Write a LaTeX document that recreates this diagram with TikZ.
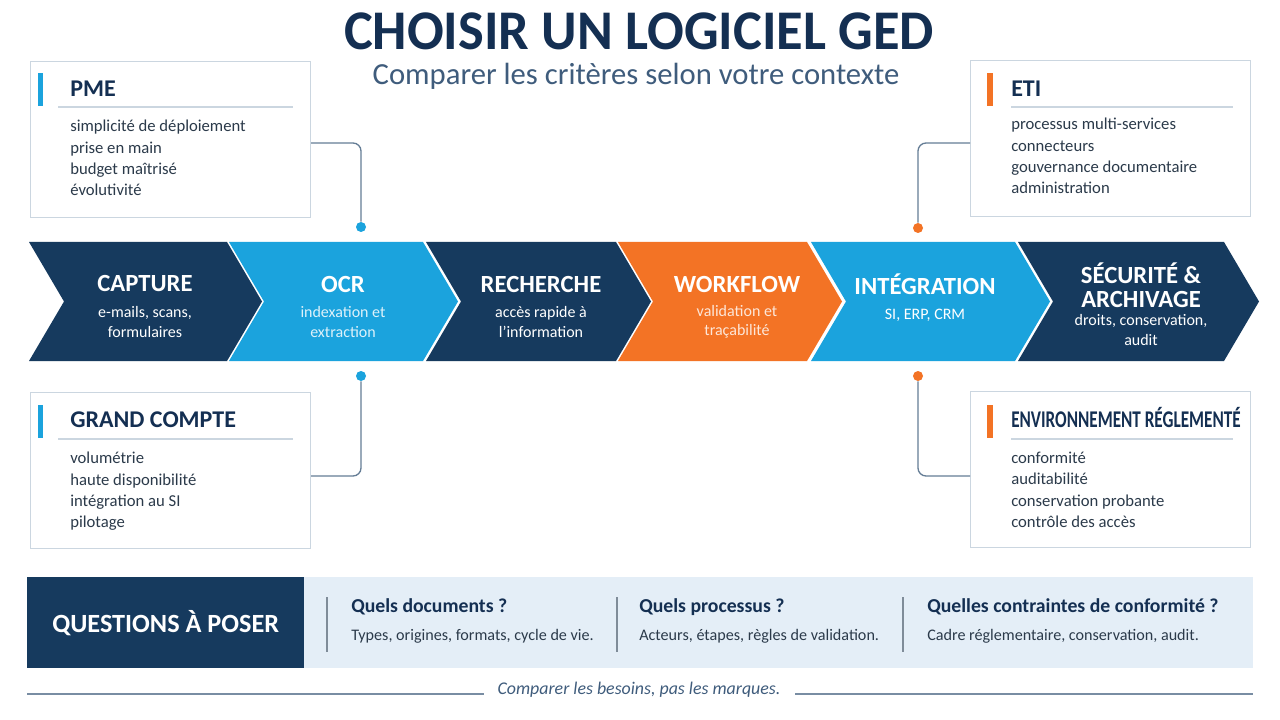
\documentclass[tikz,border=0pt]{standalone}
\usepackage{fontspec}
\setmainfont{Carlito}
\usetikzlibrary{calc}
\definecolor{navy}{HTML}{163A5E}
\definecolor{sky}{HTML}{1BA3DD}
\definecolor{orng}{HTML}{F37325}
\definecolor{titlec}{HTML}{142F52}
\definecolor{subc}{HTML}{3F5C7C}
\definecolor{txt}{HTML}{2B3A4A}
\definecolor{bord}{HTML}{CBD6E0}
\definecolor{band}{HTML}{E4EEF7}
\definecolor{sepc}{HTML}{7F8C99}
\tikzset{
  panel/.style={draw=bord, fill=white, line width=0.8pt, anchor=north west,
    minimum width=280*0.75pt, minimum height=156*0.75pt, inner sep=0pt},
  ptitle/.style={anchor=west, font=\bfseries\fontsize{18}{18}\selectfont, text=titlec, inner sep=0pt},
  pitems/.style={anchor=north west, align=left, font=\fontsize{12.5}{15.9}\selectfont, text=txt, inner sep=0pt},
  conn/.style={draw=subc!80, line width=1pt, rounded corners=6pt},
  dotc/.style={circle, inner sep=0pt, minimum size=10*0.75pt},
  chtitle/.style={font=\bfseries\fontsize{18.5}{18}\selectfont, text=white, align=center},
  chsub/.style={font=\fontsize{12}{14.5}\selectfont, align=center},
  qtitle/.style={anchor=west, font=\bfseries\fontsize{14.8}{15}\selectfont, text=titlec, inner sep=0pt},
  qsub/.style={anchor=west, font=\fontsize{12.1}{12}\selectfont, text=txt, inner sep=0pt},
}
\begin{document}
\begin{tikzpicture}[x=0.75pt,y=-0.75pt]
\useasboundingbox (0,0) rectangle (1280,720);
\fill[white] (0,0) rectangle (1280,720);

% Title
\node[font=\bfseries\fontsize{40}{40}\selectfont, text=titlec, inner sep=0pt, text depth=0pt, anchor=base] (title) at (639,50) {\scalebox{1.02}[1.05]{CHOISIR UN LOGICIEL GED}};
\node[font=\fontsize{23}{23}\selectfont, text=subc, inner sep=0pt, text height=12pt, anchor=base] (subtitle) at (636,85) {Comparer les critères selon votre contexte};

% Chevrons
\def\D{35}
\foreach \s/\e/\col in {29/227/navy, 229/423/sky, 426/616/navy, 618/807/orng, 811/1015/sky, 1018/1224/navy}{
  \fill[\col] (\s,242) -- (\e,242) -- ({\e+\D},301.5) -- (\e,361) -- (\s,361) -- ({\s+\D},301.5) -- cycle;
}
\node[chtitle] (c1t) at (145,284) {CAPTURE};
\node[chsub, text=white] (c1s) at (145,322) {e-mails, scans,\\formulaires};
\node[chtitle] (c2t) at (343,284) {OCR};
\node[chsub, text=white!85!sky] (c2s) at (343,322) {indexation et\\extraction};
\node[chtitle] (c3t) at (541,284) {RECHERCHE};
\node[chsub, text=white] (c3s) at (541,322) {accès rapide à\\l’information};
\node[chtitle] (c4t) at (737,284) {WORKFLOW};
\node[chsub, text=white!82!orng] (c4s) at (737,322) {validation et\\traçabilité};
\node[chtitle] (c5t) at (925,284) {INTÉGRATION};
\node[chsub, text=white] (c5s) at (925,315) {SI, ERP, CRM};
\node[chtitle] (c6t) at (1141,285) {SÉCURITÉ \&\\ARCHIVAGE};
\node[chsub, text=white] (c6s) at (1141,330) {droits, conservation,\\audit};

% Panels
\node[panel] (pme) at (30,61) {};
\fill[sky] (38,73) rectangle (43,106);
\node[ptitle] (pmet) at (70,89) {PME};
\draw[bord, line width=0.8pt] (58,107) -- (293,107);
\node[pitems] (pmei) at (70,120) {simplicité de déploiement\\prise en main\\budget maîtrisé\\évolutivité};

\node[panel] (gc) at (30,392) {};
\fill[sky] (38,405) rectangle (43,438);
\node[ptitle] (gct) at (70,420) {GRAND COMPTE};
\draw[bord, line width=0.8pt] (58,439) -- (293,439);
\node[pitems] (gci) at (70,452) {volumétrie\\haute disponibilité\\intégration au SI\\pilotage};

\node[panel] (eti) at (970,60) {};
\fill[orng] (987,73) rectangle (993,106);
\node[ptitle] (etit) at (1011,89) {ETI};
\draw[bord, line width=0.8pt] (1011,107) -- (1233,107);
\node[pitems] (etii) at (1011,118) {processus multi-services\\connecteurs\\gouvernance documentaire\\administration};

\node[panel] (env) at (970,391) {};
\fill[orng] (987,405) rectangle (993,438);
\node[ptitle] (envt) at (1011,418) {\scalebox{0.715}[1]{ENVIRONNEMENT RÉGLEMENTÉ}};
\draw[bord, line width=0.8pt] (1011,439) -- (1233,439);
\node[pitems] (envi) at (1011,452) {conformité\\auditabilité\\conservation probante\\contrôle des accès};

% Connectors and dots
\node[dotc, fill=sky] (d1) at (361,227) {};
\node[dotc, fill=sky] (d2) at (361,376) {};
\node[dotc, fill=orng] (d3) at (918,228) {};
\node[dotc, fill=orng] (d4) at (918,376) {};
\draw[conn] ($(pme.north east)+(0,82)$) -| (d1.north);
\draw[conn] ($(gc.north east)+(0,84)$) -| (d2.south);
\draw[conn] ($(eti.north west)+(0,83)$) -| (d3.north);
\draw[conn] ($(env.north west)+(0,85)$) -| (d4.south);

% Questions band
\fill[band] (304,577) rectangle (1253,668);
\node[fill=navy, anchor=north west, minimum width=277*0.75pt, minimum height=91*0.75pt, inner sep=0pt,
  font=\bfseries\fontsize{19.7}{19.7}\selectfont, text=white] (qbox) at (27,577) {QUESTIONS À POSER};
\draw[sepc, line width=0.8pt] (327,597) -- (327,652);
\draw[sepc, line width=0.8pt] (617,597) -- (617,652);
\draw[sepc, line width=0.8pt] (903,597) -- (903,652);
\node[qtitle] (q1t) at (351,607) {Quels documents ?};
\node[qsub] (q1s) at (351,636) {Types, origines, formats, cycle de vie.};
\node[qtitle] (q2t) at (639,607) {Quels processus ?};
\node[qsub] (q2s) at (639,636) {Acteurs, étapes, règles de validation.};
\node[qtitle] (q3t) at (927,607) {Quelles contraintes de conformité ?};
\node[qsub] (q3s) at (927,636) {Cadre réglementaire, conservation, audit.};

% Footer
\node[font=\itshape\fontsize{13.4}{13.4}\selectfont, text=subc] (foot) at (639,690) {Comparer les besoins, pas les marques.};
\draw[subc!70, line width=0.8pt] (27,694) -- (484,694);
\draw[subc!70, line width=0.8pt] (795,694) -- (1253,694);
\end{tikzpicture}
\end{document}
